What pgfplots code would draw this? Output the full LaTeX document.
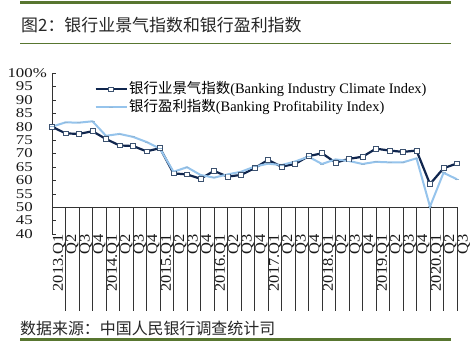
\documentclass[border=0pt]{standalone}
\usepackage{pgfplots}
\pgfplotsset{compat=1.18}
\usepackage{fontspec}
\setmainfont{Liberation Serif}
\newfontfamily\cjk{Noto Sans CJK SC}
\newfontfamily\tickfont[FakeStretch=1.1]{Liberation Serif}
\newfontfamily\ytickfont[FakeStretch=1.25]{Liberation Serif}
\definecolor{gr}{RGB}{88,118,48}
\definecolor{navy}{RGB}{16,38,78}
\definecolor{mk}{RGB}{60,82,112}
\definecolor{lb}{RGB}{150,196,236}
\begin{document}
\begin{tikzpicture}[x=1bp,y=1bp]
\useasboundingbox (0,0) rectangle (473,343);
\fill[white] (0,0) rectangle (473,343);
\draw[gr, line width=3bp] (20,340) -- (451,340);
\node[anchor=west, inner sep=0, font=\cjk\fontsize{17}{17}\selectfont, text=black!85] at (21,318) {图2：银行业景气指数和银行盈利指数};
\draw[gr, line width=1bp] (20,300) -- (451,300);
\node[anchor=west, inner sep=0, font=\cjk\fontsize{16}{16}\selectfont, text=black!85] at (20,15) {数据来源：中国人民银行调查统计司};
\draw[gr, line width=3bp] (20,4) -- (451,4);
\begin{axis}[
  at={(52bp,109bp)}, anchor=south west,
  scale only axis, width=405bp, height=161bp,
  xmin=0, xmax=30, ymin=40, ymax=100,
  axis y line*=left, axis x line*=bottom,
  x axis line style={draw=none},
  y axis line style={-, black!80},
  xtick={0,...,30},
  xticklabels={2013.Q1,Q2,Q3,Q4,2014.Q1,Q2,Q3,Q4,2015.Q1,Q2,Q3,Q4,2016.Q1,Q2,Q3,Q4,2017.Q1,Q2,Q3,Q4,2018.Q1,Q2,Q3,Q4,2019.Q1,Q2,Q3,Q4,2020.Q1,Q2,Q3},
  xtick style={draw=none},
  ytick={40,45,...,100},
  yticklabels={40,45,50,55,60,65,70,75,80,85,90,95,100\rlap{\%}},
  ytick style={black!80},
  tick align=inside, major tick length=4bp,
  yticklabel style={font=\ytickfont\fontsize{13.5}{13.5}\selectfont, inner sep=0pt, xshift=-19bp, text=black!90},
  xticklabel style={font=\tickfont\fontsize{15}{15}\selectfont, rotate=90, anchor=east, inner sep=0pt, yshift=-7bp, text=black!90},
  legend style={at={(0.097,0.965)}, anchor=north west, draw=none, fill=none,
    font=\fontsize{14.5}{14.5}\selectfont, row sep=1bp,
    nodes={inner sep=1.5bp, text height=11bp, text depth=3bp}},
  legend cell align=left,
  legend image code/.code={\draw[mark repeat=2,mark phase=2,#1] plot coordinates {(0bp,0bp) (15.5bp,0bp) (31bp,0bp)};},
  clip=false,
]
\draw[black!80] (axis cs:0,50) -- (axis cs:30.1,50);
\pgfplotsinvokeforeach{1,...,30}{\draw[black!80] (axis cs:#1,50) -- ++(0,4bp);}
\addplot[navy, line width=2.2bp, mark=square*, mark size=2.4bp, mark options={fill=white, draw=mk, line width=0.8bp}]
coordinates {
(0,80.0)(1,77.5)(2,77.3)(3,78.3)(4,75.4)(5,73.0)(6,72.8)(7,70.8)(8,72.0)(9,62.6)
(10,62.2)(11,60.6)(12,63.5)(13,61.4)(14,62.0)(15,64.5)(16,67.6)(17,65.1)(18,66.1)(19,69.0)
(20,70.1)(21,66.6)(22,68.0)(23,68.8)(24,71.8)(25,71.1)(26,70.6)(27,71.1)(28,58.6)(29,64.5)(30,66.3)};
\addlegendentry{{\cjk 银行业景气指数}(Banking Industry Climate Index)}
\addplot[lb, line width=2bp, mark=-, mark size=2bp, mark options={draw=lb!80!gray, line width=0.8bp}]
coordinates {
(0,80.0)(1,81.6)(2,81.5)(3,82.0)(4,76.6)(5,77.3)(6,76.2)(7,74.3)(8,71.8)(9,63.2)
(10,64.9)(11,62.0)(12,61.0)(13,62.2)(14,63.2)(15,65.1)(16,66.2)(17,65.7)(18,67.0)(19,68.8)
(20,66.1)(21,67.8)(22,67.2)(23,66.1)(24,66.9)(25,66.7)(26,66.7)(27,68.2)(28,50.2)(29,62.8)(30,60.4)};
\addlegendentry{{\cjk 银行盈利指数}(Banking Profitability Index)}
\end{axis}
\end{tikzpicture}
\end{document}
